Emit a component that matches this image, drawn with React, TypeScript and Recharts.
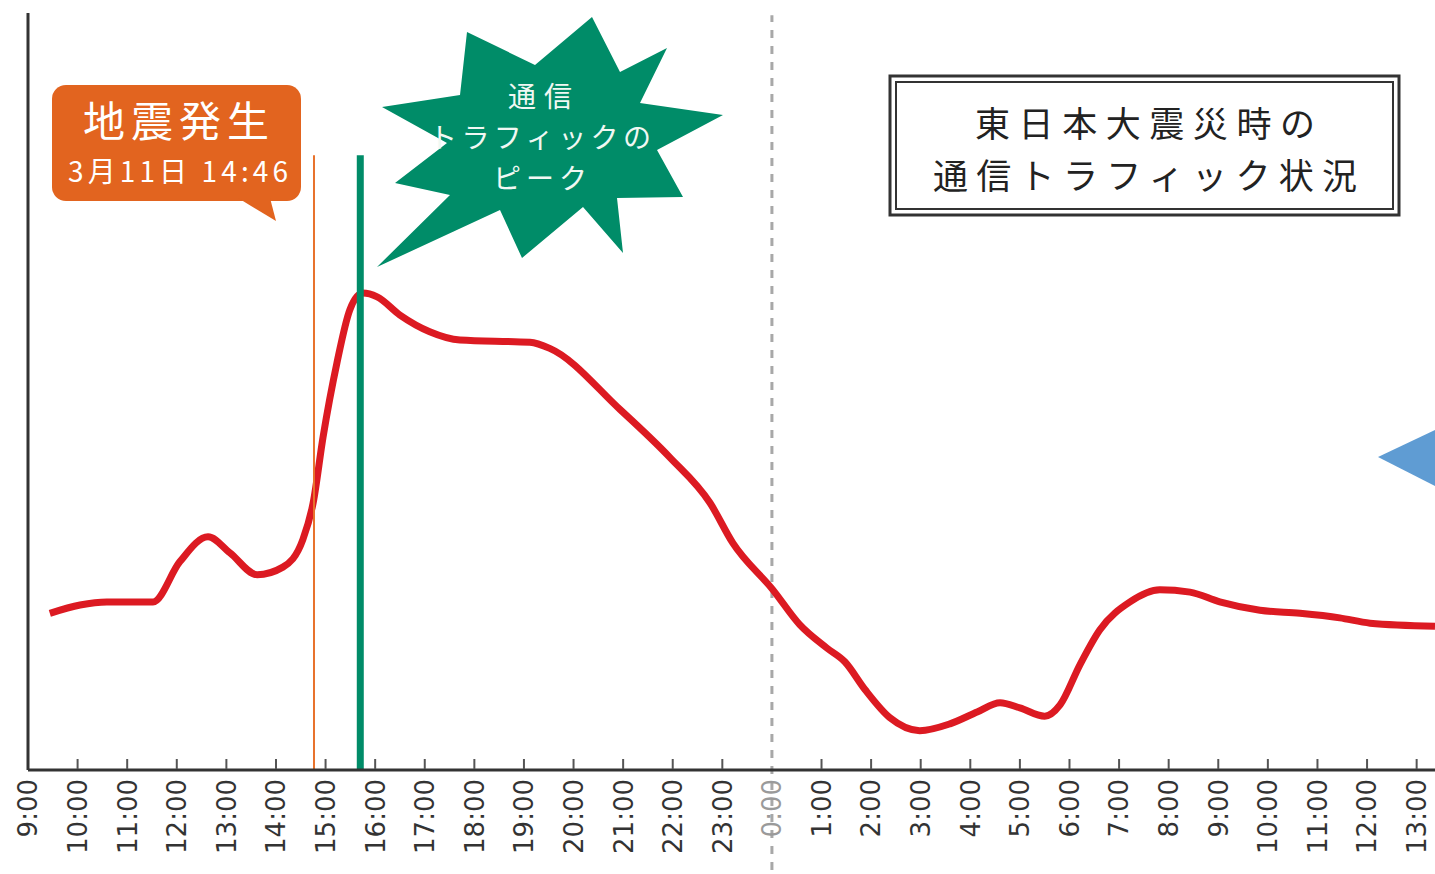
import React from 'react';
import {
  LineChart,
  Line,
  XAxis,
  YAxis,
  ReferenceLine
} from 'recharts';

// hours since 9:00 on 3/11, running to 13:00 the next day
const hourLabels = [
  '9:00', '10:00', '11:00', '12:00', '13:00', '14:00', '15:00', '16:00',
  '17:00', '18:00', '19:00', '20:00', '21:00', '22:00', '23:00', '0:00',
  '1:00', '2:00', '3:00', '4:00', '5:00', '6:00', '7:00', '8:00',
  '9:00', '10:00', '11:00', '12:00', '13:00'
];

const times = [
  0.44, 1.05, 1.59, 2.52, 3.06, 3.63, 4.07, 4.62, 5.14, 5.54,
  5.75, 5.95, 6.23, 6.49, 6.75, 7.04, 7.5, 8.1, 8.71, 10.12,
  10.52, 11.94, 12.94, 13.75, 14.21, 15.02, 15.56, 16.11, 16.47, 16.88,
  17.38, 17.98, 18.59, 19.15, 19.6, 20.0, 20.5, 20.81, 21.21, 21.61,
  22.22, 22.82, 23.43, 24.03, 24.84, 25.65, 26.45, 27.06, 28.37
];

// traffic index (arbitrary units, 0-100)
const traffic = [
  20.7, 21.8, 22.2, 22.2, 27.5, 30.8, 28.7, 25.8, 26.8, 30.4,
  35.3, 44.0, 53.8, 60.8, 63.0, 62.5, 60.1, 57.9, 56.8, 56.5,
  55.7, 47.6, 41.3, 35.3, 30.0, 23.8, 19.2, 16.1, 14.3, 10.6,
  6.9, 5.2, 6.1, 7.7, 8.9, 8.2, 7.1, 8.6, 13.9, 18.5,
  22.2, 23.8, 23.5, 22.2, 21.1, 20.7, 20.1, 19.4, 19.0
];

const quakeTime = 5 + 46 / 60; // 14:46
const peakTime = 6.7;
const midnight = 15;

const data = times.map((t, i) => ({ t, traffic: traffic[i] }));
const tickValues = hourLabels.map((_, i) => i);

function HourTick(props: any) {
  const { x, y, payload } = props;
  const label = hourLabels[payload.value];
  const isMidnight = payload.value === midnight;
  return (
    <g>
      {!isMidnight && payload.value > 0 && (
        <line x1={x} x2={x} y1={y - 11} y2={y - 1} stroke="#555" strokeWidth={2} />
      )}
      <text
        transform={`translate(${x},${y + 9}) rotate(-90)`}
        textAnchor="end"
        dy="0.36em"
        fontFamily="DejaVu Sans"
        fontSize={26}
        fill={isMidnight ? '#9a9a9a' : '#333'}
      >
        {label}
      </text>
    </g>
  );
}

const starburst = [
  [467, 32], [535, 65], [592, 17], [620, 72], [667, 48], [640, 103],
  [723, 115], [657, 150], [683, 197], [617, 198], [623, 253], [583, 207],
  [522, 258], [500, 210], [377, 267], [450, 195], [395, 183], [447, 143],
  [382, 107], [460, 95]
];

export default function App() {
  return (
    <div style={{ position: 'absolute', left: 0, top: 0, width: 1435, height: 874, background: '#fff' }}>
      <LineChart
        width={1435}
        height={874}
        data={data}
        margin={{ top: 13, right: 0, bottom: 0, left: 28 }}
      >
        <XAxis
          dataKey="t"
          type="number"
          domain={[0, 28.37]}
          ticks={tickValues}
          interval={0}
          height={104}
          tickSize={0}
          tickMargin={0}
          tickLine={false}
          tick={<HourTick />}
          axisLine={{ stroke: '#333', strokeWidth: 3 }}
          allowDataOverflow
        />
        <YAxis domain={[0, 100]} width={0} tick={false} tickLine={false} axisLine={false} />
        {/* left axis line */}
        <ReferenceLine
          segment={[{ x: 0, y: 0 }, { x: 0, y: 100 }]}
          stroke="#333"
          strokeWidth={3}
          ifOverflow="visible"
        />
        <ReferenceLine
          segment={[{ x: midnight, y: -13.2 }, { x: midnight, y: 99.7 }]}
          stroke="#a8a8a8"
          strokeWidth={3}
          strokeDasharray="8 8"
          ifOverflow="visible"
        />
        <Line
          type="monotone"
          dataKey="traffic"
          stroke="#dc1a22"
          strokeWidth={7}
          dot={false}
          isAnimationActive={false}
        />
        <ReferenceLine
          segment={[{ x: quakeTime, y: 0 }, { x: quakeTime, y: 81.2 }]}
          stroke="#e8722c"
          strokeWidth={2}
          ifOverflow="visible"
        />
        <ReferenceLine
          segment={[{ x: peakTime, y: 0 }, { x: peakTime, y: 81.2 }]}
          stroke="#008c68"
          strokeWidth={7}
          ifOverflow="visible"
        />
      </LineChart>

      <svg
        width={1435}
        height={874}
        style={{ position: 'absolute', left: 0, top: 0, pointerEvents: 'none' }}
        fontFamily="'Noto Sans CJK JP', 'Noto Sans'"
      >
        {/* earthquake callout */}
        <rect x={52} y={85} width={249} height={116} rx={14} fill="#e2641f" />
        <polygon points="238,198 276,221 270,198" fill="#e2641f" />
        <text x={176} y={137} textAnchor="middle" fontSize={42} fill="#fff" textLength={186} lengthAdjust="spacing">
          地震発生
        </text>
        <text x={178} y={182} textAnchor="middle" fontSize={28} fill="#fff" textLength={220} lengthAdjust="spacing">
          3月11日 14:46
        </text>

        {/* traffic peak burst */}
        <polygon points={starburst.map((p) => p.join(',')).join(' ')} fill="#008c68" />
        <text x={540} y={107} textAnchor="middle" fontSize={28} fill="#f0f8f3" textLength={64} lengthAdjust="spacing">
          通信
        </text>
        <text x={540} y={148} textAnchor="middle" fontSize={28} fill="#f0f8f3" textLength={222} lengthAdjust="spacing">
          トラフィックの
        </text>
        <text x={540} y={189} textAnchor="middle" fontSize={28} fill="#f0f8f3" textLength={94} lengthAdjust="spacing">
          ピーク
        </text>

        {/* title box */}
        <rect x={890} y={76} width={509} height={139} fill="none" stroke="#333" strokeWidth={3} />
        <rect x={896} y={82} width={497} height={127} fill="none" stroke="#333" strokeWidth={2} />
        <text x={1145} y={137} textAnchor="middle" fontSize={35} fill="#222" textLength={340} lengthAdjust="spacing">
          東日本大震災時の
        </text>
        <text x={1145} y={189} textAnchor="middle" fontSize={35} fill="#222" textLength={424} lengthAdjust="spacing">
          通信トラフィック状況
        </text>

        {/* arrow hint at right edge */}
        <polygon points="1378,457 1435,430 1435,486" fill="#5f9cd3" />
      </svg>
    </div>
  );
}
